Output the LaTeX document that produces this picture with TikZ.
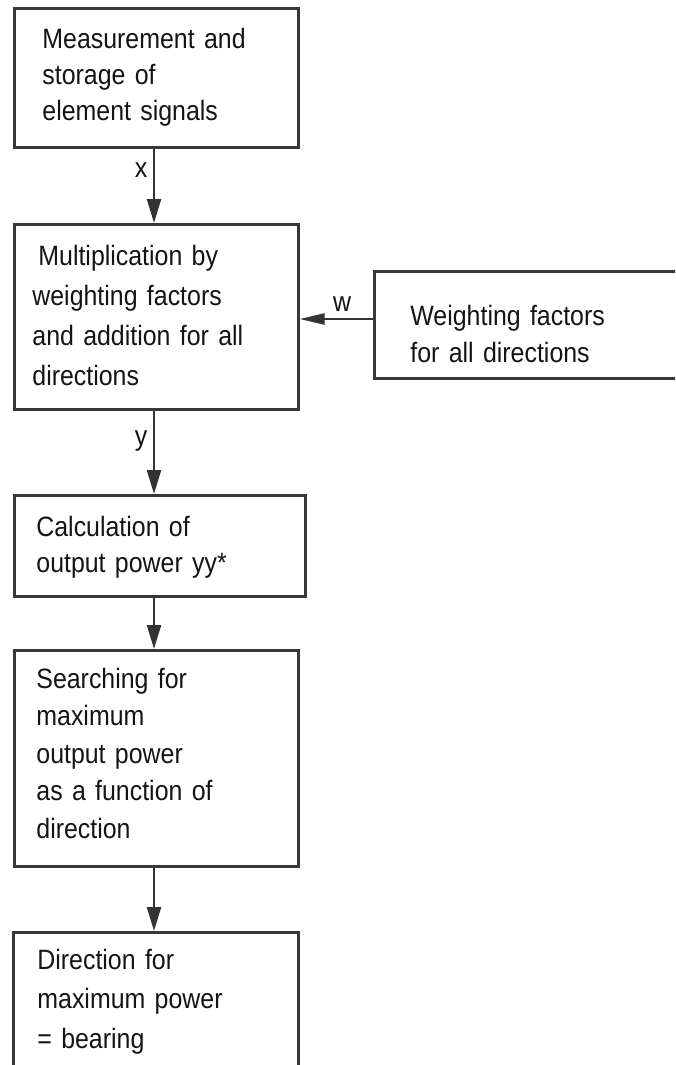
\documentclass[tikz,border=0pt]{standalone}
\usepackage{fontspec}
\setmainfont{Liberation Sans}[FakeStretch=0.89]
\usetikzlibrary{arrows.meta}

% box text: condensed sans with tight word spacing
\newcommand\boxtextfont[1]{\fontsize{14}{#1}\selectfont\setlength{\spaceskip}{3.4pt plus 1pt}}

\begin{document}
\begin{tikzpicture}[x=0.5pt,y=-0.5pt,
  box/.style={draw=black!78, line width=1.3pt, inner sep=0pt, anchor=north west},
  txt/.style={anchor=north west, inner sep=0pt, align=left, text width=140pt,
    text=black!92, font=\boxtextfont{#1}},
  lab/.style={inner sep=0pt, text=black!92, font=\fontsize{14}{16}\selectfont},
  flow/.style={draw=black!80, line width=1.2pt, -{Triangle[length=12pt,width=7pt]}},
  feed/.style={draw=black!80, line width=1.2pt, -{Triangle[length=12.5pt,width=5.5pt]}}]

  % page frame
  \useasboundingbox (0,0) rectangle (675,1065);
  \clip (0,0) rectangle (675,1065);

  % process boxes
  \node[box, minimum width=142pt,   minimum height=69.5pt] (b1) at (13,7)   {};
  \node[box, minimum width=142pt,   minimum height=92.5pt] (b2) at (13,223) {};
  \node[box, minimum width=200pt,   minimum height=53.5pt] (wf) at (373,270) {};
  \node[box, minimum width=145.5pt, minimum height=50.5pt] (b3) at (13,494) {};
  \node[box, minimum width=142pt,   minimum height=108pt]  (b4) at (13,649) {};
  \node[box, minimum width=142.5pt, minimum height=100pt]  (b5) at (12,931) {};

  % box texts
  \node[txt=18] (t1) at (42,22.8)
    {\strut Measurement and\\storage of\\element signals};
  \node[txt=20] (t2) at (32,237)
    {\strut\hspace*{3pt}Multiplication by\\weighting factors\\and addition for all\\directions};
  \node[txt=18.5] (tw) at (410,299.1)
    {\strut Weighting factors\\for all directions};
  \node[txt=18] (t3) at (36,510.8)
    {\strut Calculation of\\output power yy*};
  \node[txt=18.75] (t4) at (36,661.75)
    {\strut Searching for\\maximum\\output power\\as a function of\\direction};
  \node[txt=19.75] (t5) at (37,941.35)
    {\strut Direction for\\maximum power\\= bearing};

  % connector guides
  \coordinate (ax) at (154,0);
  \coordinate (wy) at (0,319);

  % connectors
  \draw[flow] (b1.south -| ax) -- (b2.north -| ax);
  \draw[flow] (b2.south -| ax) -- (b3.north -| ax);
  \draw[flow] (b3.south -| ax) -- (b4.north -| ax);
  \draw[flow] (b4.south -| ax) -- (b5.north -| ax);
  \draw[feed] (wf.west |- wy) -- (b2.east |- wy);

  % signal labels
  \node[lab] (lx) at (141,170) {x};
  \node[lab] (ly) at (141,441) {y};
  \node[lab] (lw) at (342,304) {w};
\end{tikzpicture}
\end{document}
